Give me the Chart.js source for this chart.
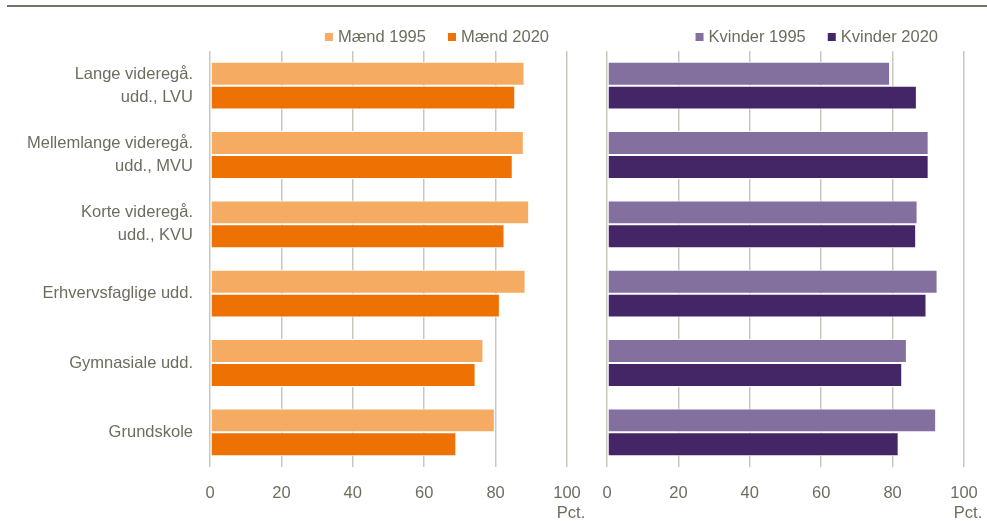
<!DOCTYPE html>
<html lang="da">
<head>
  <meta charset="UTF-8">
  <title>Mænd og kvinder efter uddannelse</title>
  <script src="https://cdn.jsdelivr.net/npm/chart.js"></script>
  <style>
    body {
      margin: 0;
      background: #fff;
      width: 987px;
      height: 521px;
      position: relative;
      overflow: hidden;
      font-family: 'Liberation Sans', Arial, sans-serif;
    }
    .rule {
      position: absolute;
      top: 5px;
      left: 7px;
      right: 0;
      height: 2px;
      background: #77725f;
    }
    canvas {
      position: absolute;
      top: 0;
    }
    #men { left: 0; }
    #women { left: 590px; }
  </style>
</head>
<body>
  <div class="rule"></div>
  <canvas id="men" width="590" height="521"></canvas>
  <canvas id="women" width="397" height="521"></canvas>

  <script>
    const categories = [
      ['Lange videregå.', 'udd., LVU'],
      ['Mellemlange videregå.', 'udd., MVU'],
      ['Korte videregå.', 'udd., KVU'],
      'Erhvervsfaglige udd.',
      'Gymnasiale udd.',
      'Grundskole'
    ];
    const maend1995 = [88.1, 87.9, 89.4, 88.4, 76.6, 79.8];
    const maend2020 = [85.5, 84.8, 82.5, 81.2, 74.4, 69.0];
    const kvinder1995 = [79.3, 90.1, 87.0, 92.6, 84.0, 92.2];
    const kvinder2020 = [86.8, 90.1, 86.6, 89.5, 82.7, 81.7];
    const xTicks = [0, 20, 40, 60, 80, 100];
    const unitLabel = 'Pct.';

    const textColor = '#6f6c5e';
    const gridColor = '#c9c8be';
    const font = { family: "'Liberation Sans', Arial, sans-serif", size: 16.5 };

    // legend drawn by hand so spacing and position match
    const sideLegend = {
      id: 'sideLegend',
      afterDraw(chart, args, opts) {
        const ctx = chart.ctx;
        ctx.save();
        ctx.font = font.size + 'px ' + font.family;
        ctx.textBaseline = 'middle';
        ctx.textAlign = 'left';
        let x = opts.right;
        const sets = chart.data.datasets.slice().reverse();
        sets.forEach(ds => {
          const w = ctx.measureText(ds.label).width;
          x -= w;
          ctx.fillStyle = textColor;
          ctx.fillText(ds.label, x, opts.y);
          x -= 13;
          ctx.fillStyle = ds.backgroundColor;
          ctx.fillRect(x, opts.y - 4, 8, 8);
          x -= 22;
        });
        // unit under the last tick
        const xs = chart.scales.x;
        ctx.fillStyle = textColor;
        ctx.textAlign = 'center';
        ctx.fillText(unitLabel, xs.getPixelForValue(100) + 4, 513);
        ctx.restore();
      }
    };

    function makeOptions(showLabels, pad, legendRight) {
      return {
        responsive: false,
        animation: false,
        indexAxis: 'y',
        layout: { padding: pad },
        datasets: {
          bar: {
            categoryPercentage: 0.69,
            barPercentage: 1,
            borderColor: '#ffffff',
            borderWidth: 1,
            borderSkipped: false
          }
        },
        scales: {
          x: {
            min: 0,
            max: 100,
            afterBuildTicks: s => { s.ticks = xTicks.map(v => ({ value: v })); },
            afterFit: s => { s.height = 54; s.paddingLeft = 0; s.paddingRight = 0; },
            grid: { color: gridColor, lineWidth: 1.5, drawTicks: false },
            border: { display: false },
            ticks: { color: textColor, font: font, padding: 17, maxRotation: 0, autoSkip: false }
          },
          y: {
            display: showLabels,
            afterFit: s => { s.width = showLabels ? 210 : 0; },
            grid: { display: false, drawTicks: false },
            border: { display: false },
            ticks: {
              color: textColor,
              font: Object.assign({ lineHeight: 1.39 }, font),
              padding: 17
            }
          }
        },
        plugins: {
          legend: { display: false },
          tooltip: { enabled: false },
          sideLegend: { right: legendRight, y: 37 }
        }
      };
    }

    new Chart(document.getElementById('men'), {
      type: 'bar',
      data: {
        labels: categories,
        datasets: [
          { label: 'Mænd 1995', data: maend1995, backgroundColor: '#f6ab63' },
          { label: 'Mænd 2020', data: maend2020, backgroundColor: '#ee7203' }
        ]
      },
      options: makeOptions(true, { top: 51, left: 0, right: 23, bottom: 0 }, 549),
      plugins: [sideLegend]
    });

    new Chart(document.getElementById('women'), {
      type: 'bar',
      data: {
        labels: categories,
        datasets: [
          { label: 'Kvinder 1995', data: kvinder1995, backgroundColor: '#84709f' },
          { label: 'Kvinder 2020', data: kvinder2020, backgroundColor: '#442667' }
        ]
      },
      options: makeOptions(false, { top: 51, left: 17, right: 23, bottom: 0 }, 348),
      plugins: [sideLegend]
    });
  </script>
</body>
</html>
